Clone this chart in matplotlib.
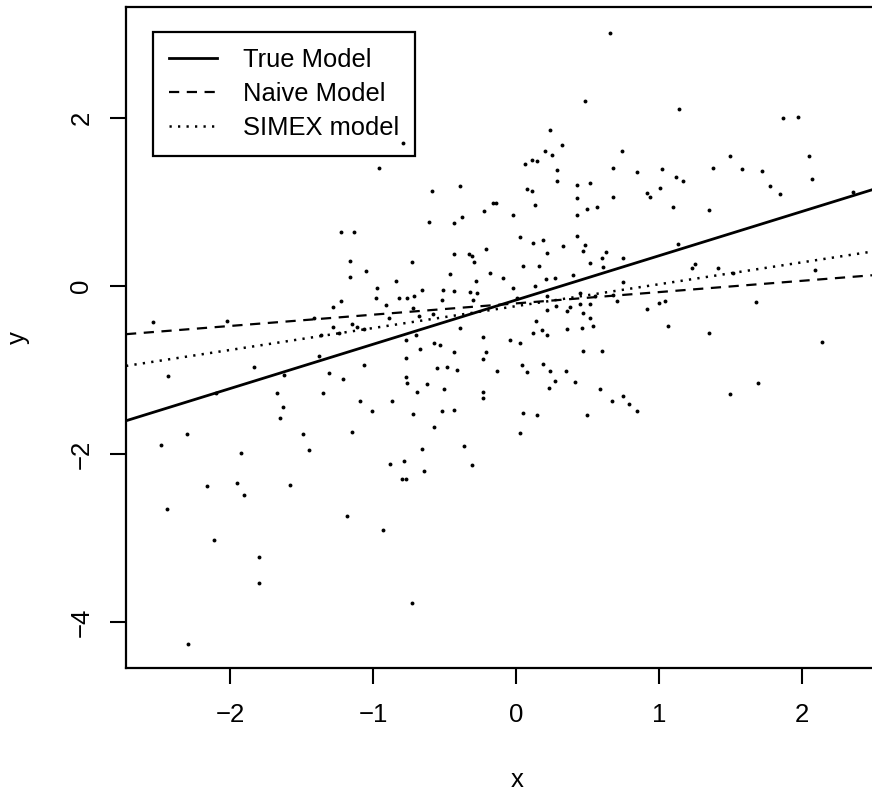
import matplotlib
matplotlib.use("Agg")
import matplotlib.pyplot as plt

plt.rcParams['font.family'] = ['Liberation Sans', 'DejaVu Sans']

x_obs = [-0.79, -0.96, -0.59, -0.39, 0.66, 0.48, 1.14, 1.87, 1.97, 0.24, 0.32, 0.20, 0.25, 0.74, 1.50, 2.05,
         0.06, 0.11, 0.15, 0.29, 0.68, 0.85, 1.02, 1.38, 1.58, 1.72, 2.07, 0.29, 1.12, 1.17, 0.43, 0.52,
         1.78, 1.85, 0.08, 0.11, 0.92, 0.94, 1.01, 0.43, 0.68, 0.13, -0.16, -0.14, 0.50, 0.57, 1.10, 1.35, 2.36,
         -0.38, -0.43, -0.61, -1.22, -1.13, -0.43, -0.33, -0.31, -0.29, -0.73, -1.16, -1.05, -1.16, -0.46,
         -0.28, -0.84, -0.97, -0.66, -0.51, -0.43, -0.32, -0.27, -0.98, -0.82, -0.76, -0.71, -0.52, -0.30,
         -0.91, -1.28, -1.22, -0.72, -2.54, -2.02, -1.41, -0.89, -0.68, -0.58, -1.28, -1.15, -1.11, -1.06,
         -0.39, -1.36, -1.24, -0.70, -0.77, -0.23, -0.57, -0.53, -0.67, -0.43, -1.38, -1.83, -2.43, -0.55,
         -0.48, -0.41, -0.23, -1.62, -1.31, -1.06, -1.21, -0.77, -0.77, -0.76, -0.62, -0.50, -0.69, -0.23,
         -0.23, -1.67, -1.35, -2.10,
         -0.22, -0.02, 0.43, 0.03, -0.21, 0.12, 0.19, 0.43, 0.48, 0.33, 0.22, 0.05, 0.16, 0.47, 0.52, 0.60,
         0.63, 0.61, 0.75, 1.13, 1.25, 1.23, 1.41, 1.52, 2.09, -0.18, -0.09, -0.02, 0.13, 0.21, 0.27, 0.40,
         0.01, 0.22, 0.45, 0.55, 0.75, 0.68, 0.38, 0.45, 0.52, 0.36, 0.47, 0.22, 0.28, 0.14, 0.52, 0.71,
         0.92, 1.00, 1.04, 0.54, 1.06, 1.68, -0.04, 0.03, 0.12, 0.18, 0.22, 0.36, 0.46, 1.35, 2.14, -0.21,
         -0.13, 0.04, 0.08, 0.19, 0.24, 0.35, 0.27, 0.23, 0.41, 0.47, 0.60, 0.59, 0.75, 1.69, 1.50,
         -1.63, -1.65, -1.09, -0.87, -1.01, -0.72, -0.52, -0.43, -2.48, -2.30, -1.49, -1.15, -0.57, -1.92,
         -1.45, -0.66, -0.36, -0.88, -0.78, -0.31, -0.80, -0.77, -0.64, -2.16, -1.95, -1.90, -1.58, -2.44,
         -1.18, -0.93, -2.11, -1.80, -1.80, -0.73, -2.29,
         0.67, 0.79, 0.85, 0.05, 0.15, 0.50, 0.03]
y_obs = [1.70, 1.40, 1.13, 1.19, 3.01, 2.20, 2.11, 2.00, 2.01, 1.85, 1.68, 1.60, 1.56, 1.61, 1.55, 1.55,
         1.45, 1.50, 1.49, 1.38, 1.40, 1.36, 1.39, 1.40, 1.39, 1.37, 1.27, 1.25, 1.30, 1.25, 1.20, 1.23,
         1.19, 1.10, 1.15, 1.13, 1.11, 1.06, 1.17, 1.05, 1.06, 0.96, 0.99, 0.99, 0.92, 0.94, 0.94, 0.90, 1.12,
         0.82, 0.75, 0.76, 0.64, 0.64, 0.38, 0.38, 0.36, 0.29, 0.29, 0.30, 0.18, 0.11, 0.14,
         0.06, 0.06, -0.02, -0.05, -0.05, -0.06, -0.07, -0.08, -0.14, -0.14, -0.14, -0.12, -0.17, -0.17,
         -0.23, -0.25, -0.18, -0.26, -0.43, -0.42, -0.38, -0.38, -0.36, -0.33, -0.49, -0.45, -0.49, -0.51,
         -0.50, -0.58, -0.56, -0.58, -0.64, -0.61, -0.68, -0.70, -0.75, -0.79, -0.83, -0.96, -1.07, -0.98,
         -0.96, -1.00, -0.87, -1.06, -1.04, -0.94, -1.11, -0.86, -1.08, -1.15, -1.17, -1.23, -1.26, -1.26,
         -1.33, -1.27, -1.27, -1.27,
         0.89, 0.85, 0.85, 0.58, 0.44, 0.51, 0.55, 0.60, 0.49, 0.48, 0.39, 0.24, 0.24, 0.42, 0.27, 0.33,
         0.40, 0.23, 0.33, 0.50, 0.26, 0.21, 0.21, 0.15, 0.19, 0.15, 0.10, -0.02, 0.00, 0.08, 0.10, 0.13,
         -0.14, -0.12, -0.08, -0.12, 0.05, -0.11, -0.25, -0.21, -0.21, -0.30, -0.32, -0.29, -0.24, -0.42, -0.38, -0.18,
         -0.27, -0.20, -0.18, -0.48, -0.48, -0.19, -0.64, -0.68, -0.56, -0.52, -0.58, -0.51, -0.50, -0.56, -0.67, -0.79,
         -1.01, -0.94, -1.02, -0.93, -1.01, -1.01, -1.13, -1.21, -1.14, -0.77, -0.77, -1.23, -1.31, -1.15, -1.29,
         -1.44, -1.57, -1.37, -1.37, -1.49, -1.52, -1.49, -1.48, -1.89, -1.76, -1.76, -1.74, -1.68, -1.99,
         -1.95, -1.94, -1.90, -2.12, -2.08, -2.13, -2.30, -2.30, -2.20, -2.38, -2.35, -2.49, -2.37, -2.65,
         -2.74, -2.90, -3.02, -3.23, -3.54, -3.77, -4.26,
         -1.37, -1.40, -1.49, -1.51, -1.54, -1.54, -1.75]

# fitted lines: intercept and slope of each model
model_names = ['True Model', 'Naive Model', 'SIMEX model']
intercepts = [-0.168, -0.208, -0.241]
slopes = [0.527, 0.1344, 0.2608]
line_styles = ['-', (0, (4.6, 3.4)), (0, (0.9, 2.5))]
line_widths = [2.0, 1.6, 1.8]

x_ticks = [-2, -1, 0, 1, 2]
y_ticks = [-4, -2, 0, 2]

fig = plt.figure(figsize=(8.72, 7.90), dpi=100)
ax = fig.add_axes([126 / 872, 122 / 790, 746 / 872, 661 / 790])

ax.plot(x_obs, y_obs, 'o', color='black', ms=2.8, mew=0)

for name, b, m, ls, lw in zip(model_names, intercepts, slopes, line_styles, line_widths):
    ax.axline((0, b), slope=m, color='black', linestyle=ls, linewidth=lw, label=name)

ax.set_xlim(-2.727, 2.49)
ax.set_ylim(-4.548, 3.32)
ax.set_xticks(x_ticks)
ax.set_yticks(y_ticks)
ax.tick_params(length=11.5, width=1.5, labelsize=18.5, color='black')
ax.tick_params(axis='x', pad=14)
ax.tick_params(axis='y', pad=12)
for lab in ax.get_yticklabels():
    lab.set_rotation(90)
    lab.set_va('center')

for side in ['left', 'top', 'bottom']:
    ax.spines[side].set_linewidth(1.6)
ax.spines['right'].set_visible(False)

ax.set_xlabel('x', fontsize=18.5, va='center')
ax.xaxis.set_label_coords(0.524, -0.169)
ax.set_ylabel('y', fontsize=18.5, va='center')
ax.yaxis.set_label_coords(-0.145, 0.5)

leg = ax.legend(loc='upper left', bbox_to_anchor=(0.0362, 0.962), borderaxespad=0,
                fontsize=18.4, frameon=True, fancybox=False, framealpha=1, edgecolor='black',
                handlelength=1.9, handletextpad=1.0, borderpad=0.62, labelspacing=0.4)
leg.get_frame().set_linewidth(1.6)
leg.get_frame().set_facecolor('none')

fig.savefig('out.png', dpi=100)
